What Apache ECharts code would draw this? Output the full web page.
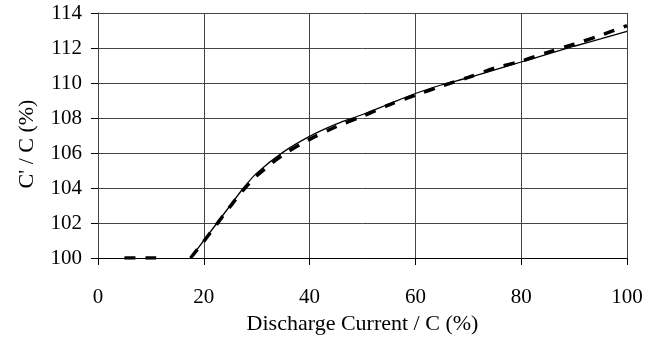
<!DOCTYPE html>
<html><head><meta charset="utf-8">
<script src="https://cdn.jsdelivr.net/npm/echarts@6/dist/echarts.min.js"></script>
<style>html,body{margin:0;padding:0;background:#fff}#c{width:661px;height:342px}</style>
</head><body><div id="c"></div>
<script>
var xTicks = [0, 20, 40, 60, 80, 100];
var yTicks = [100, 102, 104, 106, 108, 110, 112, 114];
var solidX = [17.5, 20, 22.5, 25, 27.5, 30, 35, 40, 45, 50, 55, 60, 65, 70, 75, 80, 85, 90, 95, 100];
var solidY = [100, 101.0, 102.0, 103.0, 104.0, 104.85, 106.05, 106.95, 107.65, 108.2, 108.8, 109.4, 109.9, 110.3, 110.75, 111.2, 111.65, 112.1, 112.52, 112.95];
var dashLowX = [5, 11];
var dashLowY = [100, 100];
var dashX = [17.5, 20, 22.5, 25, 27.5, 30, 35, 40, 45, 50, 55, 60, 65, 70, 75, 80, 85, 90, 95, 100];
var dashY = [100, 100.95, 101.95, 102.95, 103.9, 104.7, 105.9, 106.78, 107.5, 108.1, 108.75, 109.3, 109.83, 110.32, 110.85, 111.25, 111.75, 112.22, 112.72, 113.28];

function pairs(xs, ys){ return xs.map(function(x,i){ return [x, ys[i]]; }); }
var font = 'Liberation Serif';
var chart = echarts.init(document.getElementById('c'));
chart.setOption({
  animation: false,
  grid: {left: 98, right: 34, top: 13, bottom: 84, show: false},
  xAxis: {
    type: 'value', min: xTicks[0], max: xTicks[xTicks.length-1], interval: 20,
    name: 'Discharge Current / C (%)', nameLocation: 'middle', nameGap: 55,
    nameTextStyle: {fontFamily: font, fontSize: 22, color: '#000'},
    axisLine: {show: true, onZero: false, lineStyle: {color: '#000', width: 1}},
    axisTick: {show: true, length: 7, inside: false, lineStyle: {color: '#000'}},
    axisLabel: {margin: 29, fontFamily: font, fontSize: 21, color: '#000'},
    splitLine: {show: true, lineStyle: {color: '#444', width: 1}}
  },
  yAxis: {
    type: 'value', min: yTicks[0], max: yTicks[yTicks.length-1], interval: 2,
    name: "C' / C (%)", nameLocation: 'middle', nameGap: 60,
    nameTextStyle: {fontFamily: font, fontSize: 22, color: '#000', padding: [0, 17, 0, 0]},
    axisLine: {show: true, lineStyle: {color: '#444', width: 1}},
    axisTick: {show: true, length: 7, inside: false, lineStyle: {color: '#000'}},
    axisLabel: {margin: 16, fontFamily: font, fontSize: 21, color: '#000'},
    splitLine: {show: true, lineStyle: {color: '#444', width: 1}}
  },
  series: [
    {type: 'line', data: pairs(solidX, solidY), smooth: 0.3, showSymbol: false,
     lineStyle: {color: '#000', width: 1.3, type: 'solid'}},
    {type: 'line', data: pairs(dashX, dashY), smooth: 0.3, showSymbol: false,
     lineStyle: {color: '#000', width: 3.5, type: [11, 10]}},
    {type: 'line', data: pairs(dashLowX, dashLowY), showSymbol: false,
     lineStyle: {color: '#000', width: 3.5, type: [11, 10]}}
  ]
});
</script></body></html>
